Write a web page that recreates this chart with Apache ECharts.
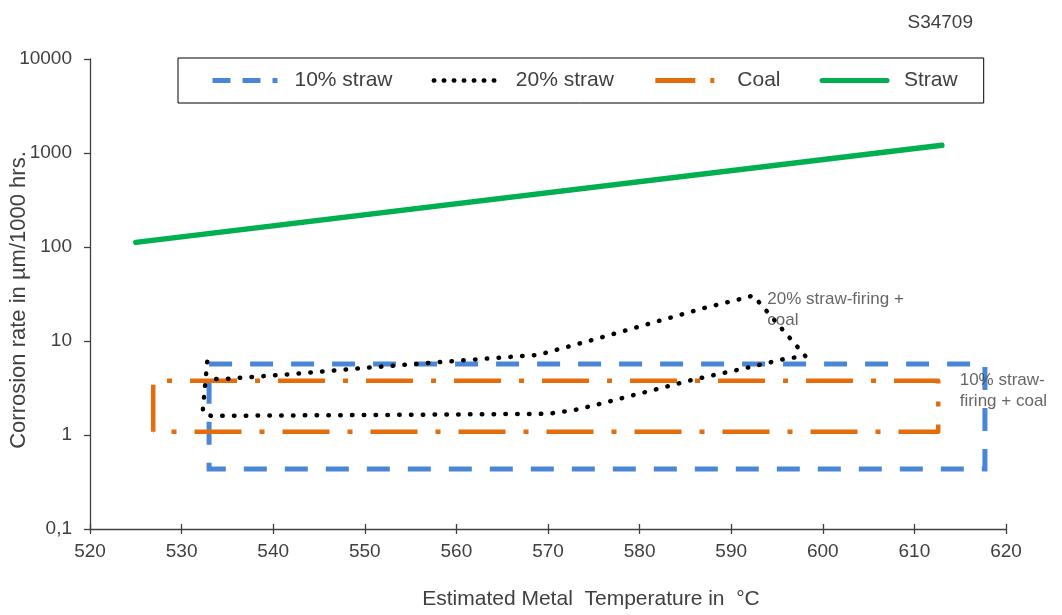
<!DOCTYPE html>
<html>
<head>
<meta charset="utf-8">
<script src="https://cdn.jsdelivr.net/npm/echarts@6/dist/echarts.min.js"></script>
<style>
html,body{margin:0;padding:0;background:#fff;}
#chart{width:1062px;height:615px;}
</style>
</head>
<body>
<div id="chart"></div>
<script>
// ---- data ----
const xMin = 520, xMax = 620, xStep = 10;
const yTickLabels = ['0,1', '1', '10', '100', '1000', '10000'];
const legendNames = ['10% straw', '20% straw', 'Coal', 'Straw'];
const straw = [[525, 112], [613, 1210]];
const straw10 = [[533, 5.7], [617.7, 5.7], [617.7, 0.435], [533, 0.435], [533, 5.7]];
const coal = [[526.9, 1.08], [526.9, 3.78], [612.6, 3.78], [612.6, 1.08], [526.9, 1.08]];
const straw20 = [
  [532.8, 6.0], [532.3, 1.75], [533.2, 1.6], [550, 1.63], [570, 1.68], [573, 1.85],
  [576.6, 2.26], [585.7, 3.85], [591, 5.0], [596, 6.5], [598.1, 6.9], [592.4, 30.5],
  [591.2, 28.2], [587.3, 22.8], [574.9, 10.3], [570.0, 7.6], [568.8, 7.1], [561.2, 6.28],
  [550.8, 5.25], [541.8, 4.43], [534.2, 3.92], [532.6, 4.0]
];
const annotationTexts = ['20% straw-firing +\ncoal', '10% straw-\nfiring + coal'];
const annotationX = [594.0, 615.0];
const annotationY = [35.7, 4.9];
const stampText = 'S34709';
const xName = 'Estimated Metal  Temperature in  °C';
const yName = 'Corrosion rate in µm/1000 hrs.';

const FONT = '"Liberation Sans", Arial, sans-serif';
const TXT = '#404040';
const chart = echarts.init(document.getElementById('chart'));

const lineBase = { type: 'line', symbol: 'none', showSymbol: false, smooth: false, silent: true };
const styles = {
  '10% straw': { color: '#4A86D6', width: 5, type: [18, 12], cap: 'butt' },
  '20% straw': { color: '#000000', width: 4.5, type: [0.5, 9.5], cap: 'round' },
  'Coal': { color: '#E46C0A', width: 5, type: [40, 15, 4, 15], cap: 'butt' },
  'Straw': { color: '#00B050', width: 5, type: 'solid', cap: 'round' }
};

chart.setOption({
  animation: false,
  backgroundColor: '#fff',
  textStyle: { fontFamily: FONT },
  title: {
    text: stampText, right: 84, top: 8,
    textStyle: { fontFamily: FONT, fontSize: 19, fontWeight: 'normal', color: TXT }
  },
  grid: { left: 90, right: 56, top: 59, bottom: 86, containLabel: false, outerBoundsMode: 'none' },
  legend: {
    data: legendNames.map(function (n) {
      return { name: n, itemStyle: { opacity: 0, borderWidth: 0 }, lineStyle: styles[n] };
    }),
    left: 178, top: 58,
    padding: [12, 26, 12, 32],
    borderColor: '#000', borderWidth: 1,
    itemWidth: 65, itemHeight: 14, itemGap: 39,
    textStyle: { fontFamily: FONT, fontSize: 21, color: TXT, padding: [0, 0, 0, 12] }
  },
  xAxis: [{
    type: 'value', min: xMin, max: xMax, interval: xStep,
    name: xName, nameLocation: 'middle', nameGap: 60, nameMoveOverlap: false,
    nameTextStyle: { fontFamily: FONT, fontSize: 21, color: TXT, padding: [0, 0, 0, 86] },
    axisLine: { show: true, lineStyle: { color: '#404040', width: 1.3 } },
    axisTick: { show: true, inside: false, length: 5, lineStyle: { color: '#404040', width: 1.3 } },
    axisLabel: { fontFamily: FONT, fontSize: 19, color: TXT, margin: 13 },
    splitLine: { show: false }
  }, {
    type: 'value', min: xMin, max: xMax, interval: xStep, position: 'bottom',
    axisLine: { show: false },
    axisTick: { show: true, inside: true, length: 5, lineStyle: { color: '#404040', width: 1.3 } },
    axisLabel: { show: false },
    splitLine: { show: false }
  }],
  yAxis: {
    type: 'log', logBase: 10, min: 0.1, max: 10000,
    name: yName, nameLocation: 'middle', nameGap: 60, nameRotate: 90, nameMoveOverlap: false,
    nameTextStyle: { fontFamily: FONT, fontSize: 22, color: TXT, padding: [0, 12, 0, 0] },
    axisLine: { show: true, lineStyle: { color: '#404040', width: 1.3 } },
    axisTick: { show: true, inside: false, length: 6, lineStyle: { color: '#404040', width: 1.3 } },
    axisLabel: {
      fontFamily: FONT, fontSize: 19, color: TXT, margin: 18,
      formatter: function (v) { return yTickLabels[Math.round(Math.log10(v)) + 1]; }
    },
    splitLine: { show: false },
    minorTick: { show: false }
  },
  series: [
    Object.assign({}, lineBase, {
      name: legendNames[0], data: straw10, z: 2, color: '#4A86D6',
      lineStyle: { color: '#4A86D6', width: 5, type: [23, 18], cap: 'butt', join: 'miter' }
    }),
    Object.assign({}, lineBase, {
      name: legendNames[2], data: coal, z: 3, color: '#E46C0A',
      lineStyle: { color: '#E46C0A', width: 4.5, type: [47, 18, 5, 18], cap: 'butt', join: 'round' }
    }),
    Object.assign({}, lineBase, {
      name: legendNames[1], data: straw20, z: 4, color: '#000000',
      lineStyle: { color: '#000000', width: 4.5, type: [0.5, 11.3], cap: 'round', join: 'round' }
    }),
    Object.assign({}, lineBase, {
      name: legendNames[3], data: straw, z: 5, color: '#00B050',
      lineStyle: { color: '#00B050', width: 5.5, type: 'solid', cap: 'round' }
    }),
    {
      name: 'notes', type: 'scatter', silent: true, symbolSize: 1, z: 6,
      itemStyle: { color: 'rgba(0,0,0,0)' },
      data: annotationX.map(function (x, i) { return [x, annotationY[i]]; }),
      label: {
        show: true, position: [0, 0], align: 'left', verticalAlign: 'top',
        fontFamily: FONT, fontSize: 17, lineHeight: 21, color: TXT,
        formatter: function (p) { return annotationTexts[p.dataIndex]; }
      }
    }
  ]
});
</script>
</body>
</html>
